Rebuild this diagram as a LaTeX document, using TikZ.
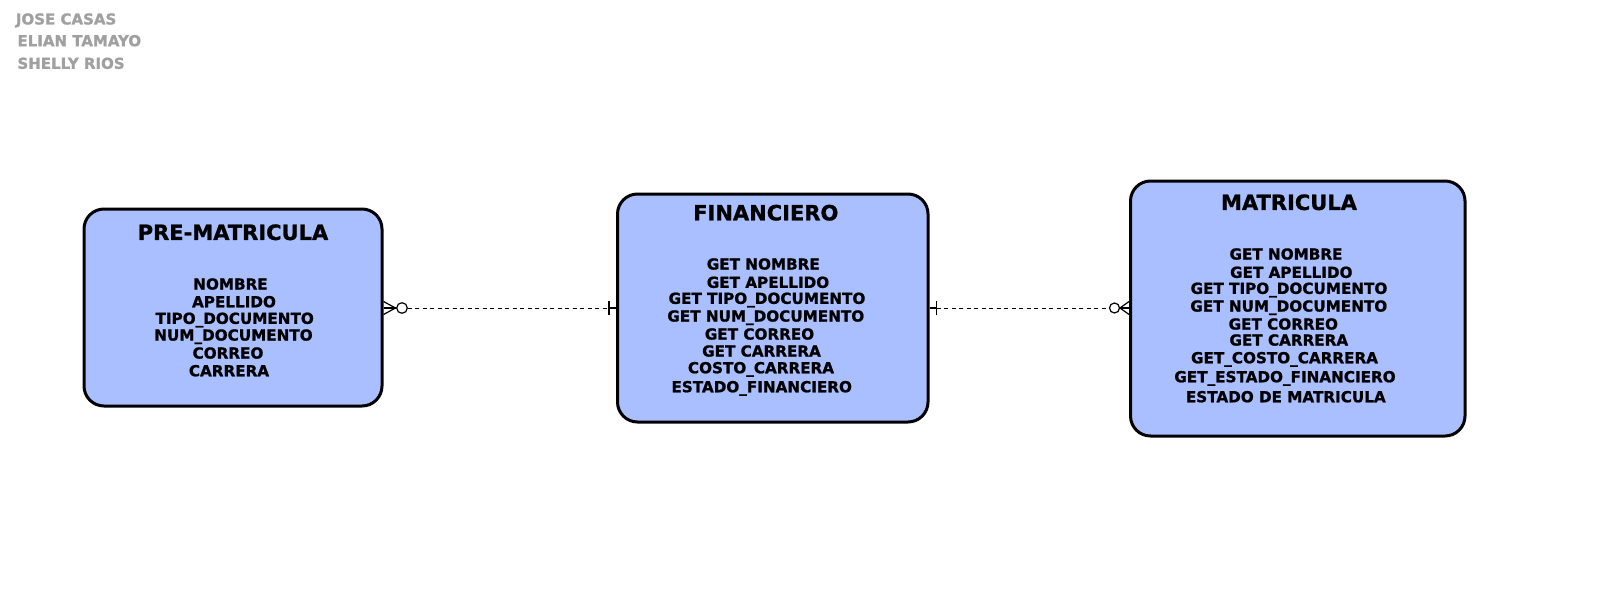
\documentclass[tikz,border=0pt]{standalone}
\usepackage{fontspec}
\setmainfont{DejaVu Sans}[BoldFeatures={FakeBold=1.2}]
\usetikzlibrary{calc}
\definecolor{entfill}{RGB}{170,191,255}
\definecolor{namegray}{RGB}{160,160,160}
\tikzset{
  entity/.style={draw=black, line width=3pt, fill=entfill, rounded corners=20pt, inner sep=0pt},
  enttitle/.style={font=\bfseries\fontsize{21}{21}\selectfont, inner sep=0pt, text height=15.3pt, text depth=0pt, anchor=center},
  attr/.style={font=\bfseries\fontsize{15.2}{15.2}\selectfont, inner sep=0pt, text height=11.1pt, text depth=0pt, anchor=center},
  author/.style={font=\bfseries\fontsize{15}{15}\selectfont, text=namegray, inner sep=0pt, text height=10.95pt, text depth=0pt, anchor=west},
  rel/.style={line width=0.9pt, dash pattern=on 4pt off 3.5pt},
  relsym/.style={line width=1.2pt},
}
\begin{document}
\begin{tikzpicture}[x=1pt,y=-1pt]
\useasboundingbox (0,0) rectangle (1600,605);
\fill[white] (0,0) rectangle (1600,605);

% authors
\node[author] (a1) at (15.7,19) {JOSE CASAS};
\node[author] (a2) at (17.3,40.7) {ELIAN TAMAYO};
\node[author] (a3) at (17.3,63.3) {SHELLY RIOS};

% entity boxes
\node[entity, minimum width=298pt, minimum height=197pt] (pre) at (233,307.5) {};
\node[entity, minimum width=310.5pt, minimum height=228pt] (fin) at (772.75,308) {};
\node[entity, minimum width=334.5pt, minimum height=255pt] (mat) at (1297.75,308.5) {};

% PRE-MATRICULA
\node[enttitle] (pret) at (233,232.3) {PRE-MATRICULA};
\node[attr] (p1) at (230.5,284) {NOMBRE};
\node[attr] (p2) at (234,301.7) {APELLIDO};
\node[attr] (p3) at (234.7,318.3) {TIPO\_DOCUMENTO};
\node[attr] (p4) at (233.5,335) {NUM\_DOCUMENTO};
\node[attr] (p5) at (228,353) {CORREO};
\node[attr] (p6) at (229,370.7) {CARRERA};

% FINANCIERO
\node[enttitle] (fint) at (765.8,212.7) {FINANCIERO};
\node[attr] (f1) at (763.3,264) {GET NOMBRE};
\node[attr] (f2) at (768,282.3) {GET APELLIDO};
\node[attr] (f3) at (767,298.3) {GET TIPO\_DOCUMENTO};
\node[attr] (f4) at (765.8,316) {GET NUM\_DOCUMENTO};
\node[attr] (f5) at (759.5,334) {GET CORREO};
\node[attr] (f6) at (761.5,351) {GET CARRERA};
\node[attr] (f7) at (761,367.7) {COSTO\_CARRERA};
\node[attr] (f8) at (761.7,386.7) {ESTADO\_FINANCIERO};

% MATRICULA
\node[enttitle] (matt) at (1289,202.3) {MATRICULA};
\node[attr] (m1) at (1286,254) {GET NOMBRE};
\node[attr] (m2) at (1291.3,272.3) {GET APELLIDO};
\node[attr] (m3) at (1289,288.3) {GET TIPO\_DOCUMENTO};
\node[attr] (m4) at (1288.8,306) {GET NUM\_DOCUMENTO};
\node[attr] (m5) at (1283.3,324) {GET CORREO};
\node[attr] (m6) at (1288.8,340) {GET CARRERA};
\node[attr] (m7) at (1284.5,357.7) {GET\_COSTO\_CARRERA};
\node[attr] (m8) at (1285,376.7) {GET\_ESTADO\_FINANCIERO};
\node[attr] (m9) at (1285.8,396.7) {ESTADO DE MATRICULA};

% relation PRE-MATRICULA (zero or many) -- FINANCIERO (one)
\coordinate (pe) at ($(pre.east)+(0,0.5)$);
\draw[relsym] ($(pe)+(0,-6.5)$) -- ($(pe)+(12,0)$) -- ($(pe)+(0,6.5)$);
\draw[relsym] (pe) -- ($(pe)+(12,0)$);
\draw[relsym] ($(pe)+(18.5,0)$) circle[radius=5.3pt];
\draw[rel] ($(pe)+(24,0)$) -- ([xshift=-7pt]fin.west);
\draw[relsym] ([xshift=-7pt,yshift=-7pt]fin.west) -- ([xshift=-7pt,yshift=7pt]fin.west);
\draw[relsym] ([xshift=-7pt]fin.west) -- (fin.west);

% relation FINANCIERO (one) -- MATRICULA (zero or many)
\draw[relsym] (fin.east) -- ([xshift=7pt]fin.east);
\draw[relsym] ([xshift=7pt,yshift=-7pt]fin.east) -- ([xshift=7pt,yshift=7pt]fin.east);
\coordinate (mw) at ($(mat.west)+(0,-0.5)$);
\draw[rel] ([xshift=7pt]fin.east) -- ($(mw)+(-19.5,0)$);
\draw[relsym] ($(mw)+(-14.5,0)$) circle[radius=5pt];
\draw[relsym] ($(mw)+(0,-6.5)$) -- ($(mw)+(-9,0)$) -- ($(mw)+(0,6.5)$);
\draw[relsym] ($(mw)+(-9,0)$) -- (mw);
\end{tikzpicture}
\end{document}
